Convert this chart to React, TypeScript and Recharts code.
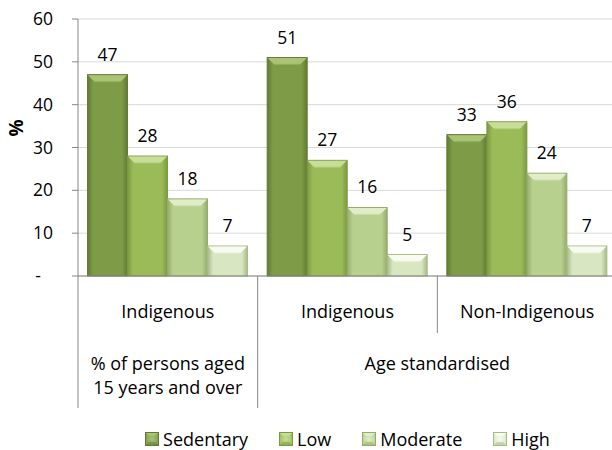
import { Bar, BarChart, CartesianGrid, LabelList, XAxis, YAxis } from 'recharts';

const groups = ['Indigenous', 'Indigenous', 'Non-Indigenous'];
const superGroups = [
  { lines: ['% of persons aged', '15 years and over'], span: 1 },
  { lines: ['Age standardised'], span: 2 },
];
const sedentary = [47, 51, 33];
const low = [28, 27, 36];
const moderate = [18, 16, 24];
const high = [7, 5, 7];
const yTicks = [0, 10, 20, 30, 40, 50, 60];

const SERIES = [
  { key: 'sedentary', name: 'Sedentary', values: sedentary },
  { key: 'low', name: 'Low', values: low },
  { key: 'moderate', name: 'Moderate', values: moderate },
  { key: 'high', name: 'High', values: high },
];

const COLORS = [
  { body: '#7e9b48', edge: '#617a33', top: '#a9c474' },
  { body: '#9bbb59', edge: '#7b9940', top: '#c8de98' },
  { body: '#b8d08e', edge: '#94ab6c', top: '#e0edc8' },
  { body: '#d9e6c2', edge: '#a6ba86', top: '#f8fbf1' },
];

const data = groups.map((g, i) => {
  const row: Record<string, string | number> = { group: g };
  SERIES.forEach((s) => (row[s.key] = s.values[i]));
  return row;
});

const FONT = "'Open Sans', sans-serif";
const CHART_W = 620;
const PLOT_LEFT = 78;
const PLOT_RIGHT_MARGIN = 3;
const BAND = (CHART_W - PLOT_LEFT - PLOT_RIGHT_MARGIN) / groups.length;

function BevelBar(props: any) {
  const { x, y, width, height, idx } = props;
  if (!height || height <= 0) return null;
  const c = COLORS[idx];
  const b = Math.min(8, height / 2);
  return (
    <g>
      <rect x={x} y={y} width={width} height={height} fill={`url(#body${idx})`} stroke={c.edge} strokeWidth={1} />
      <polygon
        points={`${x + 0.5},${y + 0.5} ${x + width - 0.5},${y + 0.5} ${x + width - b},${y + b} ${x + b},${y + b}`}
        fill={`url(#top${idx})`}
      />
    </g>
  );
}

function YTick(props: any) {
  const { x, y, payload } = props;
  if (payload.value === 0) {
    return (
      <text x={x - 15} y={y + 6} textAnchor="middle" fontSize={17.5} fontFamily={FONT} fill="#000">
        -
      </text>
    );
  }
  return (
    <text x={x} y={y + 6} textAnchor="end" fontSize={17.5} fontFamily={FONT} fill="#000">
      {payload.value}
    </text>
  );
}

function XTick(props: any) {
  const { x, y, payload, index } = props;
  const left = x - BAND / 2;
  let start = 0;
  let sup: (typeof superGroups)[number] | null = null;
  for (const sg of superGroups) {
    if (start === index) sup = sg;
    start += sg.span;
  }
  return (
    <g>
      <line x1={left} y1={y} x2={left} y2={y + (sup ? 132 : 57)} stroke="#868686" strokeWidth={1} />
      <text x={x} y={y + 42} textAnchor="middle" fontSize={18} fontFamily={FONT} fill="#000">
        {payload.value}
      </text>
      {sup &&
        sup.lines.map((line, li) => (
          <text
            key={li}
            x={left + (sup!.span * BAND) / 2}
            y={y + 94 + li * 24}
            textAnchor="middle"
            fontSize={18}
            fontFamily={FONT}
            fill="#000"
          >
            {line}
          </text>
        ))}
    </g>
  );
}

function YTitle() {
  return (
    <text
      x={16}
      y={128}
      transform="rotate(-90 16 128)"
      textAnchor="middle"
      dominantBaseline="central"
      fontSize={19}
      fontWeight="bold"
      fontFamily={FONT}
      fill="#000"
    >
      %
    </text>
  );
}

function LegendIcon({ idx }: { idx: number }) {
  const c = COLORS[idx];
  return (
    <svg width={14} height={14} style={{ display: 'block' }}>
      <defs>
        <radialGradient id={`lbody${idx}`} cx="50%" cy="50%" r="60%">
          <stop offset="0%" stopColor={c.top} />
          <stop offset="100%" stopColor={c.body} />
        </radialGradient>
      </defs>
      <rect x={0.5} y={0.5} width={13} height={13} fill={`url(#lbody${idx})`} stroke={c.edge} />
      <polygon points="1,1 13,1 10,4 4,4" fill={c.top} />
      <polygon points="1,13 13,13 10,10 4,10" fill={c.edge} opacity={0.5} />
    </svg>
  );
}

export default function App() {
  return (
    <div
      style={{
        position: 'absolute',
        left: 0,
        top: 0,
        width: 612,
        height: 450,
        overflow: 'hidden',
        background: '#fff',
      }}
    >
      <BarChart
        width={CHART_W}
        height={450}
        data={data}
        margin={{ top: 19, right: PLOT_RIGHT_MARGIN, bottom: 0, left: 0 }}
        barCategoryGap="5.3%"
        barGap={0}
      >
        <defs>
          {COLORS.map((c, i) => (
            <linearGradient key={`b${i}`} id={`body${i}`} x1="0" y1="0" x2="1" y2="0">
              <stop offset="0%" stopColor={c.edge} />
              <stop offset="14%" stopColor={c.body} />
              <stop offset="86%" stopColor={c.body} />
              <stop offset="100%" stopColor={c.edge} />
            </linearGradient>
          ))}
          {COLORS.map((c, i) => (
            <linearGradient key={`t${i}`} id={`top${i}`} x1="0" y1="0" x2="0" y2="1">
              <stop offset="0%" stopColor={c.top} />
              <stop offset="70%" stopColor={c.top} />
              <stop offset="100%" stopColor={c.body} />
            </linearGradient>
          ))}
        </defs>
        <CartesianGrid vertical={false} stroke="#d9d9d9" />
        <XAxis
          dataKey="group"
          interval={0}
          tickLine={false}
          tickSize={0}
          tickMargin={0}
          height={450 - 276}
          axisLine={{ stroke: '#868686' }}
          tick={<XTick />}
        />
        <YAxis
          domain={[0, 60]}
          ticks={yTicks}
          width={PLOT_LEFT}
          axisLine={{ stroke: '#868686' }}
          tickLine={{ stroke: '#868686' }}
          tickSize={6}
          tickMargin={19}
          tick={<YTick />}
          label={<YTitle />}
        />
        {SERIES.map((s, i) => (
          <Bar
            key={s.key}
            dataKey={s.key}
            name={s.name}
            fill={COLORS[i].body}
            isAnimationActive={false}
            shape={(p: any) => <BevelBar {...p} idx={i} />}
          >
            <LabelList dataKey={s.key} position="top" offset={14} fill="#000" fontSize={17.5} fontFamily={FONT} />
          </Bar>
        ))}
      </BarChart>
      <div
        style={{
          position: 'absolute',
          left: PLOT_LEFT,
          width: CHART_W - PLOT_LEFT - PLOT_RIGHT_MARGIN,
          top: 427,
          height: 24,
          display: 'flex',
          justifyContent: 'center',
          alignItems: 'center',
          gap: 31,
          fontFamily: FONT,
          fontSize: 18,
          color: '#000',
        }}
      >
        {SERIES.map((s, i) => (
          <span key={s.key} style={{ display: 'flex', alignItems: 'center', gap: 4 }}>
            <LegendIcon idx={i} />
            {s.name}
          </span>
        ))}
      </div>
    </div>
  );
}
